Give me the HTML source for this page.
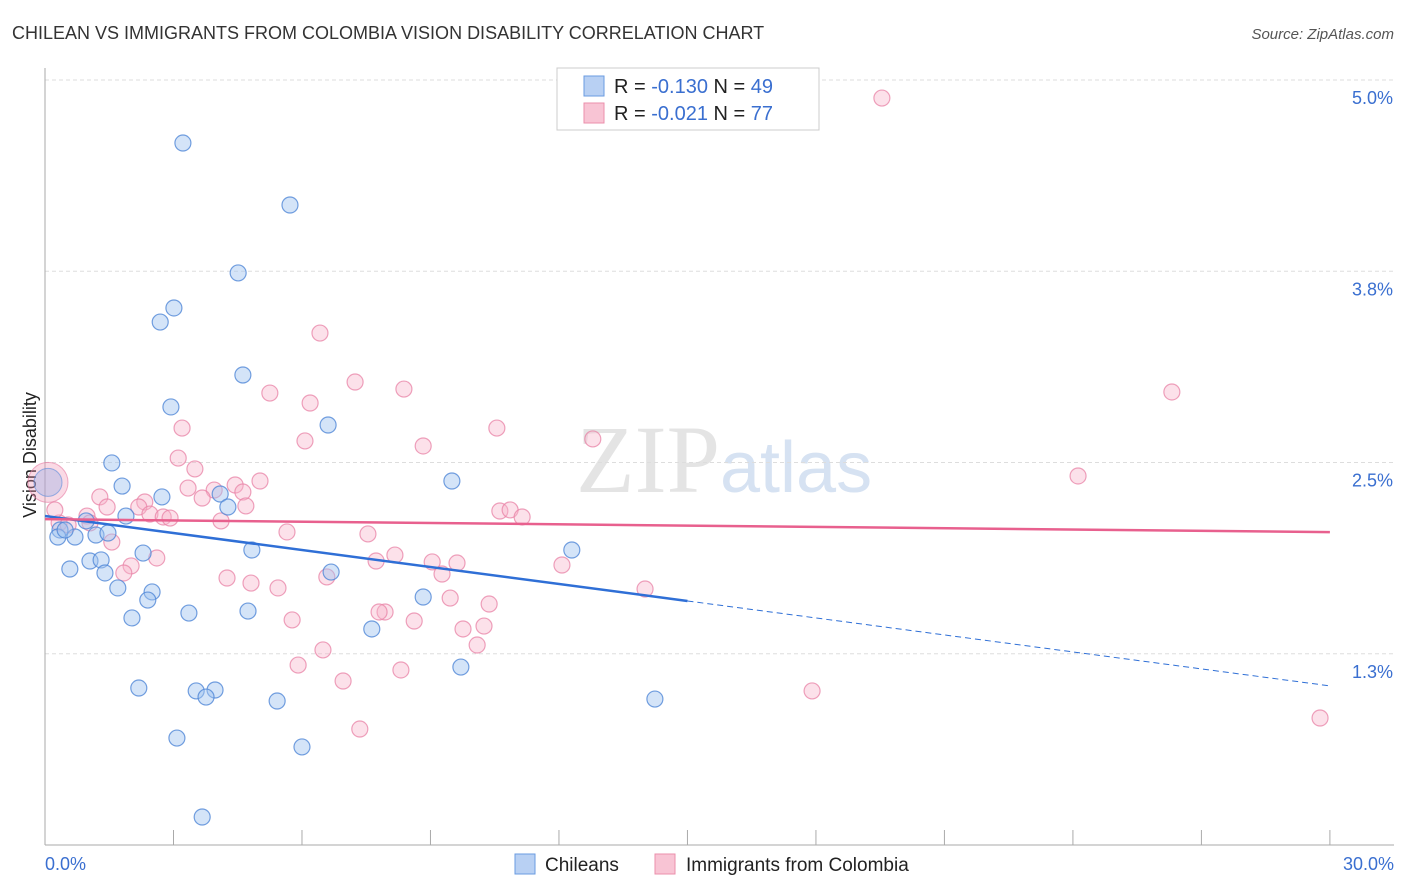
<!DOCTYPE html>
<html><head><meta charset="utf-8"><style>
body{margin:0;background:#fff;font-family:"Liberation Sans",sans-serif;}
svg{display:block}
</style></head><body>
<svg id="chart" width="1406" height="892">
<text x="12" y="39" font-size="18" fill="#333">CHILEAN VS IMMIGRANTS FROM COLOMBIA VISION DISABILITY CORRELATION CHART</text>
<text x="1394" y="39" font-size="15" fill="#555" font-style="italic" text-anchor="end">Source: ZipAtlas.com</text>
<text x="720" y="492" font-size="96" fill="#e4e4e4" font-family="Liberation Serif,serif" text-anchor="end">ZIP</text>
<text x="720" y="492" font-size="72" fill="#d6e2f2">atlas</text>
<g id="grid"></g>
<line x1="45" y1="68" x2="45" y2="845" stroke="#aaa"/>
<line x1="45" y1="845" x2="1394" y2="845" stroke="#aaa"/>
<text x="36" y="455" font-size="18" fill="#222" text-anchor="middle" transform="rotate(-90 36 455)">Vision Disability</text>
<text x="45" y="870" font-size="18" fill="#3a6fd0">0.0%</text>
<text x="1394" y="870" font-size="18" fill="#3a6fd0" text-anchor="end">30.0%</text>
<g id="pts"></g>
<g id="trends"></g>
<g>
<rect x="557" y="68" width="262" height="62" fill="#fff" stroke="#ccc"/>
<rect x="584" y="76" width="20" height="20" fill="#b8d0f3" stroke="#6a9be0"/>
<rect x="584" y="103" width="20" height="20" fill="#f8c4d4" stroke="#eb8fab"/>
<text x="614" y="93" font-size="20" fill="#222">R = <tspan fill="#3a6fd0">-0.130</tspan>   N = <tspan fill="#3a6fd0">49</tspan></text>
<text x="614" y="120" font-size="20" fill="#222">R = <tspan fill="#3a6fd0">-0.021</tspan>   N = <tspan fill="#3a6fd0">77</tspan></text>
</g>
<g>
<rect x="515" y="854" width="20" height="20" fill="#b8d0f3" stroke="#6a9be0"/>
<text x="545" y="871" font-size="19" fill="#222">Chileans</text>
<rect x="655" y="854" width="20" height="20" fill="#f8c4d4" stroke="#eb8fab"/>
<text x="686" y="871" font-size="19" fill="#222">Immigrants from Colombia</text>
</g>
</svg>
<script>
const yTicks=[5.0,3.75,2.5,1.25];
const yTickLabels=["5.0%","3.8%","2.5%","1.3%"];
const xTicks=[0,3,6,9,12,15,18,21,24,27,30];
const bluePx=[[183,143],[290,205],[238,273],[174,308],[160,322],[243,375],[171,407],[328,425],[112,463],[452,481],[122,486],[162,497],[220,494],[228,507],[126,516],[86,521],[60,530],[58,537],[75,537],[96,535],[108,533],[252,550],[572,550],[143,553],[90,561],[101,560],[70,569],[105,573],[331,572],[118,588],[152,592],[148,600],[423,597],[189,613],[248,611],[132,618],[372,629],[461,667],[139,688],[196,691],[215,690],[206,697],[277,701],[655,699],[177,738],[302,747],[202,817],[65,530]];
const pinkPx=[[882,98],[320,333],[355,382],[404,389],[270,393],[310,403],[1172,392],[182,428],[497,428],[305,441],[593,439],[423,446],[178,458],[195,469],[1078,476],[260,481],[235,485],[100,497],[188,488],[243,492],[214,490],[145,502],[202,498],[107,507],[139,507],[150,514],[163,517],[170,518],[87,516],[500,511],[510,510],[522,517],[221,521],[246,506],[59,523],[68,525],[90,523],[287,532],[368,534],[112,542],[395,555],[376,561],[432,562],[457,563],[562,565],[157,558],[131,566],[124,573],[227,578],[442,574],[327,577],[251,583],[278,588],[645,589],[450,598],[489,604],[385,612],[379,612],[292,620],[414,621],[463,629],[484,626],[477,645],[323,650],[298,665],[401,670],[343,681],[812,691],[360,729],[1320,718],[55,510]];
// data values (x %, y %)
const blueX=bluePx.map(p=>+((p[0]-45)/42.83).toFixed(2));
const blueY=bluePx.map(p=>+(5-(p[1]-80)/153).toFixed(3));
const pinkX=pinkPx.map(p=>+((p[0]-45)/42.83).toFixed(2));
const pinkY=pinkPx.map(p=>+(5-(p[1]-80)/153).toFixed(3));
const blueTrend=[[0,2.15],[15,1.595],[30,1.04]];
const pinkTrend=[[0,2.13],[30,2.045]];
const X=v=>45+v*42.83, Y=v=>80+(5-v)*153;
const NS="http://www.w3.org/2000/svg";
function mk(t,a,parent){const e=document.createElementNS(NS,t);for(const k in a)e.setAttribute(k,a[k]);document.getElementById(parent).appendChild(e);return e;}
yTicks.forEach((v,i)=>{
 const l=mk('line',{x1:45,x2:1394,y1:Y(v),y2:Y(v),stroke:'#ddd','stroke-dasharray':'4 3'},'grid');
 
 
 const t=mk('text',{x:1393,y:Y(v)+24,'font-size':18,fill:'#3a6fd0','text-anchor':'end'},'grid');
 t.textContent=yTickLabels[i];
 
 
});
xTicks.forEach(v=>{
 const l=mk('line',{x1:X(v),x2:X(v),y1:830,y2:845,stroke:'#aaa'},'grid');
 
 
});
mk('circle',{cx:X(0.07),cy:Y(2.37),r:20,fill:'rgba(240,150,180,0.35)',stroke:'rgba(230,120,160,0.6)'},'pts');
mk('circle',{cx:X(0.07),cy:Y(2.37),r:14,fill:'rgba(140,170,230,0.35)',stroke:'rgba(90,140,220,0.6)'},'pts');
pinkX.forEach((x,i)=>{
 const c=mk('circle',{cx:X(x),cy:Y(pinkY[i]),r:8,fill:'rgba(248,180,202,0.4)',stroke:'rgba(232,130,165,0.75)','stroke-width':1.2},'pts');
 
 
});
blueX.forEach((x,i)=>{
 const c=mk('circle',{cx:X(x),cy:Y(blueY[i]),r:8,fill:'rgba(160,195,240,0.45)',stroke:'rgba(80,135,215,0.8)','stroke-width':1.2},'pts');
 
 
});
let b=mk('line',{x1:X(blueTrend[0][0]),y1:Y(blueTrend[0][1]),x2:X(blueTrend[1][0]),y2:Y(blueTrend[1][1]),stroke:'#2f6fd6','stroke-width':2.5},'trends');


let bd=mk('line',{x1:X(blueTrend[1][0]),y1:Y(blueTrend[1][1]),x2:X(blueTrend[2][0]),y2:Y(blueTrend[2][1]),stroke:'#2f6fd6','stroke-width':1,'stroke-dasharray':'6 4'},'trends');


let p=mk('line',{x1:X(pinkTrend[0][0]),y1:Y(pinkTrend[0][1]),x2:X(pinkTrend[1][0]),y2:Y(pinkTrend[1][1]),stroke:'#e8608e','stroke-width':2.5},'trends');


</script>
</body></html>
